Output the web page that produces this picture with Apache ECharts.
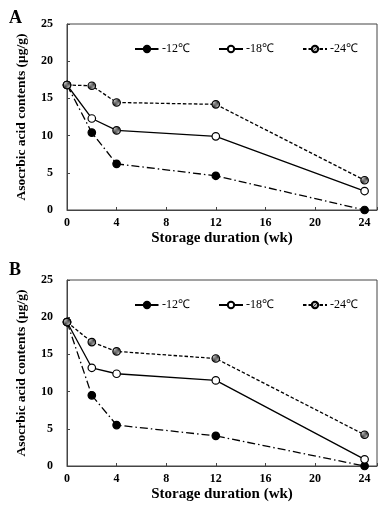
<!DOCTYPE html>
<html><head><meta charset="utf-8">
<script src="https://cdn.jsdelivr.net/npm/echarts@6/dist/echarts.min.js"></script>
<style>html,body{margin:0;padding:0;background:#fff}#c{width:389px;height:511px}</style>
</head><body><div id="c"></div>
<script>
const weeks = [0, 2, 4, 12, 24];
const seriesNames = ['-12℃', '-18℃', '-24℃'];
const xTicks = [0, 4, 8, 12, 16, 20, 24];
const yTicks = [0, 5, 10, 15, 20, 25];
const panelA_m12 = [16.8, 10.4, 6.2, 4.6, 0];
const panelA_m18 = [16.8, 12.3, 10.7, 9.9, 2.55];
const panelA_m24 = [16.8, 16.7, 14.45, 14.2, 4.0];
const panelB_m12 = [19.35, 9.5, 5.5, 4.05, 0];
const panelB_m18 = [19.35, 13.2, 12.4, 11.5, 0.9];
const panelB_m24 = [19.35, 16.65, 15.4, 14.45, 4.2];

const F = '"Liberation Serif","Times New Roman",serif';
const pc = document.createElement('canvas');
pc.width = 4; pc.height = 4;
const g = pc.getContext('2d');
g.fillStyle = '#bbb'; g.fillRect(0,0,4,4);
g.strokeStyle = '#333'; g.lineWidth = 1;
g.beginPath(); g.moveTo(0,4); g.lineTo(4,0); g.moveTo(-1,1); g.lineTo(1,-1); g.moveTo(3,5); g.lineTo(5,3); g.stroke();
const hatch = {image: pc, repeat: 'repeat'};

const styles = [
  {type: [8, 3, 1.5, 3], fill: '#000'},
  {type: 'solid', fill: '#fff'},
  {type: [3.5, 2], fill: hatch}
];

function pair(arr){ return weeks.map((w,i)=>[w, arr[i]]); }
const data = [[panelA_m12, panelA_m18, panelA_m24],[panelB_m12, panelB_m18, panelB_m24]];

const grids = [
  {left: 67, top: 24, width: 310, height: 186, show: true, borderColor: '#444', borderWidth: 1, backgroundColor: 'transparent'},
  {left: 67, top: 280, width: 310, height: 186, show: true, borderColor: '#444', borderWidth: 1, backgroundColor: 'transparent'}
];
const axisLine = {show: true, lineStyle: {color: '#444', width: 1}};
const xAxes = [0,1].map(i=>({
  type: 'value', gridIndex: i, min: xTicks[0], max: 25, interval: xTicks[1]-xTicks[0],
  axisLine, axisTick: {show: true, inside: true, length: 3, lineStyle: {color: '#444'}},
  splitLine: {show: false},
  axisLabel: {fontFamily: F, fontWeight: 'bold', fontSize: 12, color: '#000', margin: 7,
    formatter: v => xTicks.includes(v) ? String(v) : ''},
  name: 'Storage duration (wk)', nameLocation: 'middle', nameGap: 21,
  nameTextStyle: {fontFamily: F, fontWeight: 'bold', fontSize: 15, color: '#000'}
}));
const yAxes = [0,1].map(i=>({
  type: 'value', gridIndex: i, min: yTicks[0], max: yTicks[yTicks.length-1], interval: yTicks[1]-yTicks[0],
  axisLine, axisTick: {show: true, inside: true, length: 3, lineStyle: {color: '#444'}},
  splitLine: {show: false},
  axisLabel: {fontFamily: F, fontWeight: 'bold', fontSize: 12, color: '#000', margin: 14},
  name: 'Asocrbic acid contents (μg/g)', nameLocation: 'middle', nameGap: 38,
  nameTextStyle: {fontFamily: F, fontWeight: 'bold', fontSize: 13.5, color: '#000'}
}));
const series = [];
[0,1].forEach(p=>{
  seriesNames.forEach((n,k)=>{
    const d = pair(data[p][k]);
    let dd = d;
    if (p===0 && k===1) dd = d.map((pt,i)=> i===2 ? {value: pt, itemStyle: {color: hatch}} : pt);
    series.push({
      type: 'line', name: n, xAxisIndex: p, yAxisIndex: p, data: dd,
      symbol: 'circle', symbolSize: 7.5, z: 3 + k,
      lineStyle: {color: '#000', width: 1.3, type: styles[k].type},
      itemStyle: {color: styles[k].fill, borderColor: '#000', borderWidth: 1.2},
      animation: false
    });
  });
});
const legendBase = {
  data: seriesNames, left: 129, itemWidth: 24, itemHeight: 8, itemGap: 28,
  textStyle: {fontFamily: F, fontSize: 12, color: '#000', padding: [0,0,0,-2]}
};
const option = {
  backgroundColor: '#fff', animation: false,
  title: [
    {text: 'A', left: 4, top: 4, textStyle: {fontFamily: F, fontWeight: 'bold', fontSize: 18, color: '#000'}},
    {text: 'B', left: 4, top: 256, textStyle: {fontFamily: F, fontWeight: 'bold', fontSize: 18, color: '#000'}}
  ],
  legend: [Object.assign({top: 38}, legendBase), Object.assign({top: 294}, legendBase)],
  grid: grids, xAxis: xAxes, yAxis: yAxes, series
};
echarts.init(document.getElementById('c')).setOption(option);
</script></body></html>
